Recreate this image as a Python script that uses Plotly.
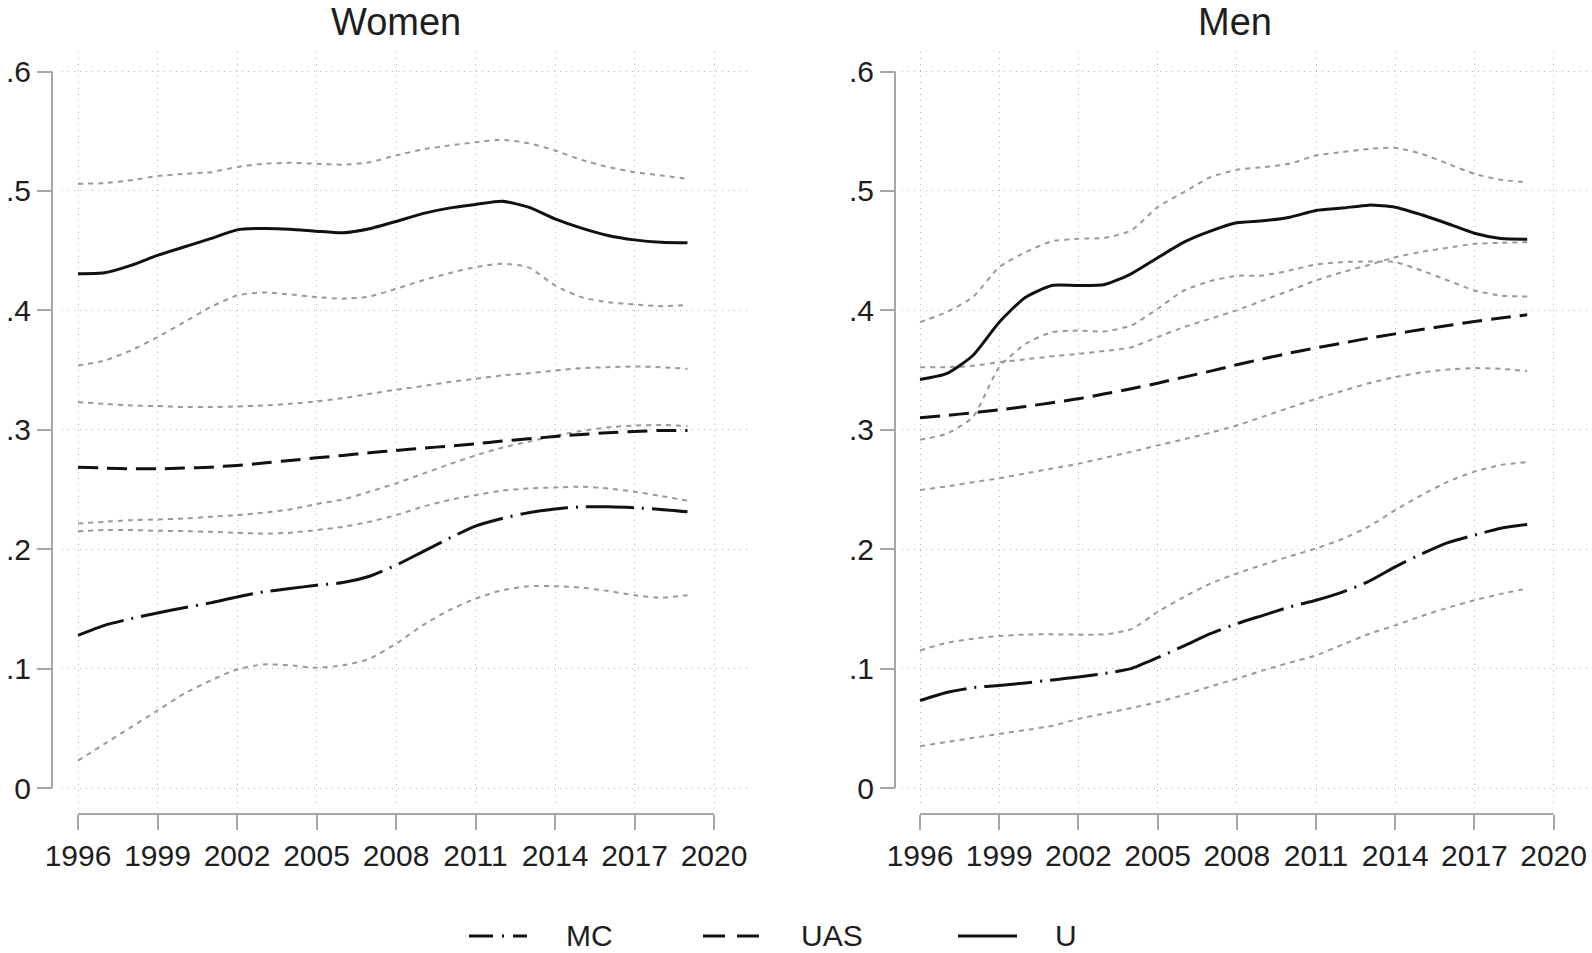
import plotly.graph_objects as go

W, H = 1592, 953

years = [1996, 1997, 1998, 1999, 2000, 2001, 2002, 2003, 2004, 2005, 2006, 2007,
         2008, 2009, 2010, 2011, 2012, 2013, 2014, 2015, 2016, 2017, 2018, 2019]

# ---------------- Women ----------------
women_U = [0.4306, 0.4314, 0.4376, 0.4460, 0.4530, 0.4600, 0.4674, 0.4686, 0.4680, 0.4663, 0.4649, 0.4683,
           0.4744, 0.4810, 0.4856, 0.4886, 0.4914, 0.4864, 0.4766, 0.4688, 0.4627, 0.4590, 0.4570, 0.4565]
women_U_hi = [0.5060, 0.5065, 0.5090, 0.5124, 0.5143, 0.5157, 0.5200, 0.5227, 0.5235, 0.5227, 0.5220, 0.5240,
              0.5297, 0.5347, 0.5380, 0.5408, 0.5428, 0.5400, 0.5339, 0.5260, 0.5200, 0.5157, 0.5130, 0.5101]
women_U_lo = [0.3538, 0.3580, 0.3664, 0.3776, 0.3900, 0.4027, 0.4124, 0.4150, 0.4133, 0.4111, 0.4097, 0.4116,
              0.4180, 0.4250, 0.4311, 0.4362, 0.4390, 0.4360, 0.4208, 0.4110, 0.4068, 0.4050, 0.4035, 0.4045]
women_UAS = [0.2687, 0.2679, 0.2673, 0.2673, 0.2679, 0.2687, 0.2701, 0.2721, 0.2743, 0.2765, 0.2785, 0.2807,
             0.2827, 0.2846, 0.2863, 0.2882, 0.2905, 0.2924, 0.2944, 0.2960, 0.2975, 0.2986, 0.2994, 0.2994]
women_UAS_hi = [0.3231, 0.3217, 0.3203, 0.3198, 0.3190, 0.3190, 0.3195, 0.3203, 0.3217, 0.3237, 0.3265, 0.3301,
                0.3335, 0.3365, 0.3399, 0.3427, 0.3455, 0.3474, 0.3496, 0.3516, 0.3524, 0.3530, 0.3524, 0.3510]
women_UAS_lo = [0.2215, 0.2229, 0.2243, 0.2249, 0.2257, 0.2271, 0.2285, 0.2305, 0.2333, 0.2378, 0.2417, 0.2481,
                0.2551, 0.2630, 0.2710, 0.2785, 0.2850, 0.2900, 0.2950, 0.2990, 0.3020, 0.3035, 0.3040, 0.3030]
women_MC = [0.1278, 0.1362, 0.1418, 0.1466, 0.1510, 0.1550, 0.1600, 0.1642, 0.1670, 0.1698, 0.1720, 0.1773,
            0.1866, 0.1978, 0.2090, 0.2193, 0.2257, 0.2305, 0.2336, 0.2355, 0.2355, 0.2347, 0.2333, 0.2313]
women_MC_hi = [0.2151, 0.2160, 0.2160, 0.2154, 0.2151, 0.2145, 0.2137, 0.2131, 0.2137, 0.2160, 0.2187, 0.2229,
               0.2285, 0.2355, 0.2411, 0.2453, 0.2490, 0.2509, 0.2517, 0.2523, 0.2509, 0.2481, 0.2445, 0.2406]
women_MC_lo = [0.0229, 0.0369, 0.0509, 0.0649, 0.0789, 0.0900, 0.0993, 0.1035, 0.1027, 0.1007, 0.1027, 0.1083,
               0.1208, 0.1362, 0.1488, 0.1586, 0.1656, 0.1690, 0.1690, 0.1678, 0.1650, 0.1614, 0.1594, 0.1614]

# ---------------- Men ----------------
men_U = [0.3421, 0.3469, 0.3622, 0.3901, 0.4110, 0.4208, 0.4208, 0.4217, 0.4306, 0.4440, 0.4571, 0.4663,
         0.4733, 0.4750, 0.4780, 0.4836, 0.4856, 0.4881, 0.4864, 0.4800, 0.4725, 0.4646, 0.4602, 0.4596]
men_U_hi = [0.3901, 0.3985, 0.4111, 0.4362, 0.4487, 0.4579, 0.4599, 0.4607, 0.4669, 0.4864, 0.4990, 0.5115,
            0.5177, 0.5199, 0.5227, 0.5297, 0.5325, 0.5352, 0.5361, 0.5311, 0.5227, 0.5143, 0.5093, 0.5073]
men_U_lo = [0.2916, 0.2966, 0.3106, 0.3524, 0.3720, 0.3817, 0.3831, 0.3823, 0.3873, 0.4013, 0.4166, 0.4245,
            0.4289, 0.4292, 0.4334, 0.4384, 0.4404, 0.4409, 0.4404, 0.4334, 0.4250, 0.4166, 0.4124, 0.4116]
men_UAS = [0.3100, 0.3120, 0.3142, 0.3167, 0.3195, 0.3226, 0.3259, 0.3301, 0.3343, 0.3390, 0.3441, 0.3491,
           0.3544, 0.3594, 0.3642, 0.3686, 0.3725, 0.3767, 0.3803, 0.3840, 0.3873, 0.3907, 0.3935, 0.3963]
men_UAS_hi = [0.3524, 0.3524, 0.3535, 0.3566, 0.3590, 0.3615, 0.3636, 0.3660, 0.3690, 0.3776, 0.3860, 0.3930,
              0.4000, 0.4083, 0.4166, 0.4250, 0.4320, 0.4380, 0.4445, 0.4490, 0.4525, 0.4557, 0.4565, 0.4571]
men_UAS_lo = [0.2495, 0.2525, 0.2560, 0.2593, 0.2635, 0.2675, 0.2715, 0.2765, 0.2815, 0.2869, 0.2920, 0.2975,
              0.3036, 0.3110, 0.3185, 0.3259, 0.3325, 0.3390, 0.3441, 0.3480, 0.3505, 0.3516, 0.3510, 0.3491]
men_MC = [0.0733, 0.0800, 0.0840, 0.0859, 0.0880, 0.0905, 0.0929, 0.0960, 0.1000, 0.1091, 0.1190, 0.1292,
          0.1376, 0.1446, 0.1516, 0.1572, 0.1640, 0.1730, 0.1852, 0.1960, 0.2055, 0.2117, 0.2175, 0.2207]
men_MC_hi = [0.1152, 0.1215, 0.1250, 0.1273, 0.1285, 0.1287, 0.1284, 0.1287, 0.1330, 0.1474, 0.1600, 0.1712,
             0.1796, 0.1870, 0.1940, 0.2006, 0.2085, 0.2190, 0.2327, 0.2453, 0.2565, 0.2649, 0.2705, 0.2730]
men_MC_lo = [0.0350, 0.0385, 0.0420, 0.0453, 0.0485, 0.0520, 0.0579, 0.0625, 0.0670, 0.0719, 0.0780, 0.0850,
             0.0915, 0.0985, 0.1050, 0.1110, 0.1200, 0.1290, 0.1362, 0.1440, 0.1510, 0.1572, 0.1625, 0.1670]

x_tickvals = [1996, 1999, 2002, 2005, 2008, 2011, 2014, 2017, 2020]
y_tickvals = [0, 0.1, 0.2, 0.3, 0.4, 0.5, 0.6]
y_ticktext = ["0", ".1", ".2", ".3", ".4", ".5", ".6"]
panel_titles = ["Women", "Men"]
legend_labels = ["MC", "UAS", "U"]

FONT = "Liberation Sans, Arial, sans-serif"
TXT = "#1e1e1e"
AXC = "#a6a6a6"
GRIDC = "#b4b4b4"
CIC = "#999999"
BLACK = "#111111"

DASH_UAS = "20px,9px"
DASH_MC = "48px,8px,2px,8px"
DASH_CI = "5px,5px"

fig = go.Figure()


def add_line(y, xa, ya, color, width, dash):
    fig.add_trace(go.Scatter(
        x=years, y=y, xaxis=xa, yaxis=ya, mode="lines",
        line=dict(color=color, width=width, dash=dash, shape="spline", smoothing=0.6),
        showlegend=False, hoverinfo="skip"))


panels = [
    ("x", "y", [women_U_hi, women_U_lo, women_UAS_hi, women_UAS_lo, women_MC_hi, women_MC_lo],
     women_MC, women_UAS, women_U),
    ("x2", "y2", [men_U_hi, men_U_lo, men_UAS_hi, men_UAS_lo, men_MC_hi, men_MC_lo],
     men_MC, men_UAS, men_U),
]
for xa, ya, cis, mc, uas, u in panels:
    for ci in cis:
        add_line(ci, xa, ya, CIC, 2, DASH_CI)
    add_line(mc, xa, ya, BLACK, 3, DASH_MC)
    add_line(uas, xa, ya, BLACK, 3, DASH_UAS)
    add_line(u, xa, ya, BLACK, 3, "solid")

# geometry (pixels)
y_top_px, y_bot_px = 52, 803
x_axis_px = 814
ydom = [1 - y_bot_px / H, 1 - y_top_px / H]
ppu = (788 - 71.5) / 0.6
yrange = [-(y_bot_px - 788) / ppu, 0.6 + (71.5 - y_top_px) / ppu]

left = dict(l=62, r=750, yr=78, ppy=26.5, yaxis_px=52)
right = dict(l=902, r=1590, yr=920, ppy=26.4, yaxis_px=895)


def xrange_for(p):
    return [1996 - (p["yr"] - p["l"]) / p["ppy"], 1996 + (p["r"] - p["yr"]) / p["ppy"]]


common_x = dict(
    tickvals=x_tickvals, ticks="outside", ticklen=15, tickwidth=2, tickcolor=AXC,
    showline=False, zeroline=False, showgrid=True, gridcolor=GRIDC, gridwidth=1.2,
    griddash="1px,5px", tickfont=dict(family=FONT, size=30, color=TXT),
    anchor="free", position=1 - x_axis_px / H, fixedrange=True, automargin=False)
common_y = dict(
    tickvals=y_tickvals, ticktext=y_ticktext, ticks="outside", ticklen=15, tickwidth=2,
    tickcolor=AXC, showline=False, zeroline=False, showgrid=True, gridcolor=GRIDC,
    gridwidth=1.2, griddash="1px,5px", tickfont=dict(family=FONT, size=30, color=TXT),
    anchor="free", domain=ydom, range=yrange, fixedrange=True, automargin=False)

fig.update_layout(
    template="none",
    width=W, height=H, margin=dict(l=0, r=0, t=0, b=0, pad=0, autoexpand=False),
    paper_bgcolor="white", plot_bgcolor="white", showlegend=False,
    xaxis=dict(common_x, domain=[left["l"] / W, left["r"] / W], range=xrange_for(left)),
    xaxis2=dict(common_x, domain=[right["l"] / W, right["r"] / W], range=xrange_for(right)),
    yaxis=dict(common_y, position=left["yaxis_px"] / W),
    yaxis2=dict(common_y, position=right["yaxis_px"] / W),
)

shapes = []
for xr, yr, p in [("x", "y", left), ("x2", "y2", right)]:
    shapes.append(dict(type="line", xref=xr, yref="paper", x0=1996, x1=2020,
                       y0=1 - x_axis_px / H, y1=1 - x_axis_px / H,
                       line=dict(color=AXC, width=2)))
    shapes.append(dict(type="line", xref="paper", yref=yr, x0=p["yaxis_px"] / W,
                       x1=p["yaxis_px"] / W, y0=0, y1=0.6,
                       line=dict(color=AXC, width=2)))

# legend drawn manually (Stata-style long samples)
leg_y = 1 - 936 / H
leg_items = [(469, 527, "24px,9px,2px,9px", 565), (703, 761, "22px,12px", 800), (958, 1017, "solid", 1054)]
annotations = []
for (x0, x1, dash, tx), lab in zip(leg_items, legend_labels):
    shapes.append(dict(type="line", xref="paper", yref="paper", x0=x0 / W, x1=x1 / W,
                       y0=leg_y, y1=leg_y, line=dict(color=BLACK, width=3, dash=dash)))
    annotations.append(dict(text=lab, xref="paper", yref="paper", x=tx / W, y=0.0005,
                            xanchor="left", yanchor="bottom", showarrow=False, borderpad=0,
                            font=dict(family=FONT, size=30, color=TXT)))

for t, cx in zip(panel_titles, [396, 1235]):
    annotations.append(dict(text=t, xref="paper", yref="paper", x=cx / W, y=0.9995,
                            xanchor="center", yanchor="top", showarrow=False, borderpad=0,
                            font=dict(family=FONT, size=38, color=TXT)))

fig.update_layout(shapes=shapes, annotations=annotations)
fig.write_html("out.html", config={"displayModeBar": False},
               post_script="document.body.style.margin='0px';document.body.style.overflow='hidden';")
